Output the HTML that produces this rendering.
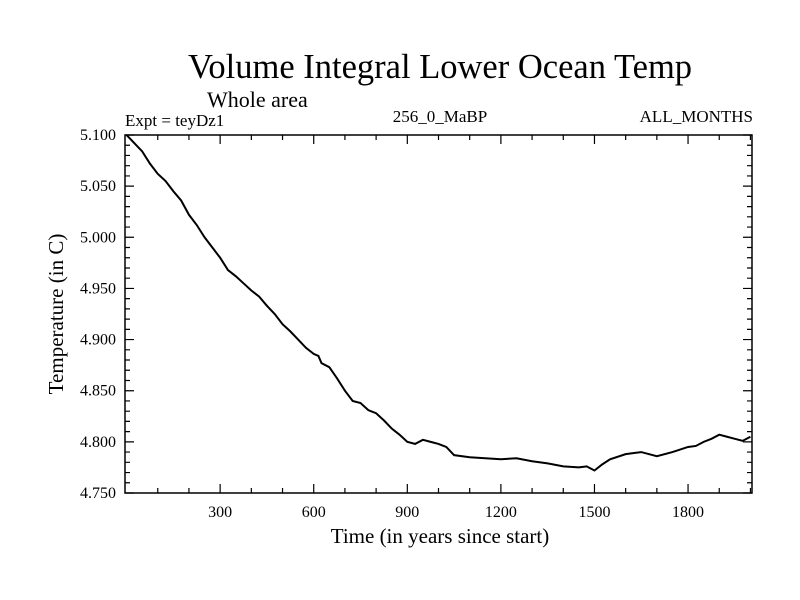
<!DOCTYPE html>
<html><head><meta charset="utf-8"><style>
body{margin:0;background:#fff}
svg{display:block;font-family:"Liberation Serif",serif}
</style></head><body>
<svg id="chart" width="800" height="600">
<text x="440" y="78" font-size="34.5" text-anchor="middle">Volume Integral Lower Ocean Temp</text>
<text x="207" y="107" font-size="22">Whole area</text>
<text x="125" y="126" font-size="17">Expt = teyDz1</text>
<text x="440" y="122" font-size="17" text-anchor="middle">256_0_MaBP</text>
<text x="753" y="122" font-size="17" text-anchor="end">ALL_MONTHS</text>
<text x="440" y="543" font-size="21" text-anchor="middle">Time (in years since start)</text>
<text transform="translate(63,314) rotate(-90)" font-size="21" text-anchor="middle">Temperature (in C)</text>
<g id="axes"></g>
<rect x="125" y="135" width="627" height="358" fill="none" stroke="#000" stroke-width="1.5"/>
</svg>
<script>
const years=[0,25,50,75,100,125,150,175,200,225,250,275,300,325,350,375,400,425,450,475,500,525,550,575,600,615,625,650,675,700,725,750,775,800,825,850,875,900,925,950,975,1000,1025,1050,1100,1150,1200,1250,1300,1350,1400,1450,1475,1500,1525,1550,1600,1650,1700,1750,1800,1825,1850,1875,1900,1925,1950,1975,2000];
const temps=[5.100,5.092,5.084,5.072,5.062,5.055,5.045,5.036,5.022,5.012,5.000,4.990,4.980,4.968,4.962,4.955,4.948,4.942,4.933,4.925,4.915,4.908,4.900,4.892,4.886,4.884,4.877,4.873,4.862,4.850,4.840,4.838,4.831,4.828,4.821,4.813,4.807,4.800,4.798,4.802,4.800,4.798,4.795,4.787,4.785,4.784,4.783,4.784,4.781,4.779,4.776,4.775,4.776,4.772,4.778,4.783,4.788,4.790,4.786,4.790,4.795,4.796,4.800,4.803,4.807,4.805,4.803,4.801,4.805];
const xTicks=[300,600,900,1200,1500,1800];
const yTicks=[4.750,4.800,4.850,4.900,4.950,5.000,5.050,5.100];
const X0=125,X1=752,Y0=135,Y1=493,xmin=-5,xmax=2005,ymin=4.75,ymax=5.10;
const xs=v=>X0+(v-xmin)/(xmax-xmin)*(X1-X0);
const ys=v=>Y1-(v-ymin)/(ymax-ymin)*(Y1-Y0);
const NS='http://www.w3.org/2000/svg';
const g=document.getElementById('axes');
function mk(t,a){const e=document.createElementNS(NS,t);for(const k in a)e.setAttribute(k,a[k]);g.appendChild(e);return e;}
for(let v=100;v<=2000;v+=100){const x=xs(v),major=xTicks.includes(v),L=major?9:5;
 const t=mk('path',{d:`M${x},${Y1}v${-L}M${x},${Y0}v${L}`,stroke:'#000','stroke-width':1.2});
 
 }
xTicks.forEach(v=>{const t=mk('text',{x:xs(v),y:517,'font-size':16,'text-anchor':'middle'});t.textContent=v;
 
 });
for(let i=0;i<=35;i++){const v=4.75+i*0.01,y=ys(v),major=i%5==0,L=major?9:5;
 const t=mk('path',{d:`M${X0},${y}h${L}M${X1},${y}h${-L}`,stroke:'#000','stroke-width':1.2});
 
 }
yTicks.forEach(v=>{const t=mk('text',{x:116,y:ys(v)+5,'font-size':16,'text-anchor':'end'});t.textContent=v.toFixed(3);
 
 });
const p=mk('polyline',{points:years.map((v,i)=>xs(v)+','+ys(temps[i])).join(' '),fill:'none',stroke:'#000','stroke-width':2});


</script>
</body></html>
